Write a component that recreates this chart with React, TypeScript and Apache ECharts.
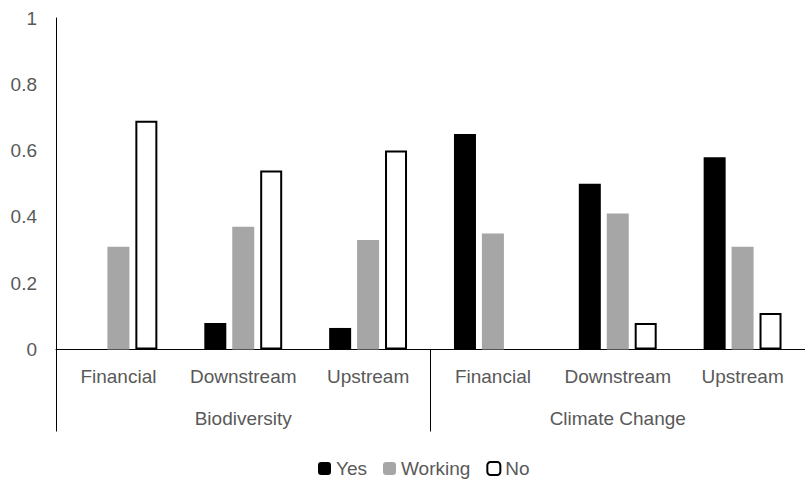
import React, { useEffect, useRef } from "react";
import * as echarts from "echarts";

const categories = ["Financial", "Downstream", "Upstream", "Financial", "Downstream", "Upstream"];
const groups = ["Biodiversity", "Climate Change"];
const yesValues = [0, 0.08, 0.065, 0.65, 0.5, 0.58];
const workingValues = [0.31, 0.37, 0.33, 0.35, 0.41, 0.31];
const noValues = [0.69, 0.54, 0.6, 0, 0.08, 0.11];

const FONT = "Liberation Sans";
const GRAY = "#595959";
const FS = 19;

export default function App() {
  const ref = useRef<HTMLDivElement>(null);
  useEffect(() => {
    document.body.style.margin = "0";
    const chart = echarts.init(ref.current!, null, { renderer: "svg" });
    chart.setOption({
      animation: false,
      textStyle: { fontFamily: FONT },
      grid: { left: 56, right: -8, top: 18, bottom: 130.5, containLabel: false },
      legend: {
        top: 454,
        left: 313,
        itemWidth: 13,
        itemHeight: 13,
        itemGap: 16,
        textStyle: { color: GRAY, fontSize: FS, fontFamily: FONT },
        data: ["Yes", "Working", "No"],
      },
      xAxis: [
        {
          type: "category",
          data: categories,
          axisLine: { show: true, lineStyle: { color: "#000", width: 1 } },
          axisTick: { show: false },
          axisLabel: { color: GRAY, fontSize: FS, margin: 17, fontFamily: FONT, interval: 0, hideOverlap: false },
        },
        {
          type: "category",
          data: groups,
          position: "bottom",
          axisLine: { show: false },
          axisTick: { show: true, length: 82, alignWithLabel: false, lineStyle: { color: "#000", width: 1 } },
          axisLabel: { color: GRAY, fontSize: FS, margin: 59, fontFamily: FONT, interval: 0 },
          boundaryGap: true,
        },
      ],
      yAxis: {
        type: "value",
        min: 0,
        max: 1,
        interval: 0.2,
        axisLine: { show: true, lineStyle: { color: "#000", width: 1 } },
        axisTick: { show: false },
        splitLine: { show: false },
        axisLabel: { color: GRAY, fontSize: FS, margin: 19, fontFamily: FONT },
      },
      series: [
        {
          name: "Yes",
          type: "bar",
          data: yesValues,
          barWidth: 22,
          barGap: "27%",
          itemStyle: { color: "#000000" },
        },
        {
          name: "Working",
          type: "bar",
          data: workingValues,
          barWidth: 22,
          barGap: "27%",
          itemStyle: { color: "#a6a6a6" },
        },
        {
          name: "No",
          type: "bar",
          data: noValues.map((v) => (v === 0 ? { value: v, itemStyle: { borderWidth: 0 } } : v)),
          barWidth: 22,
          barGap: "27%",
          itemStyle: { color: "#ffffff", borderColor: "#000000", borderWidth: 2 },
        },
      ],
    });
    return () => chart.dispose();
  }, []);
  return <div ref={ref} style={{ width: 805, height: 480 }} />;
}
